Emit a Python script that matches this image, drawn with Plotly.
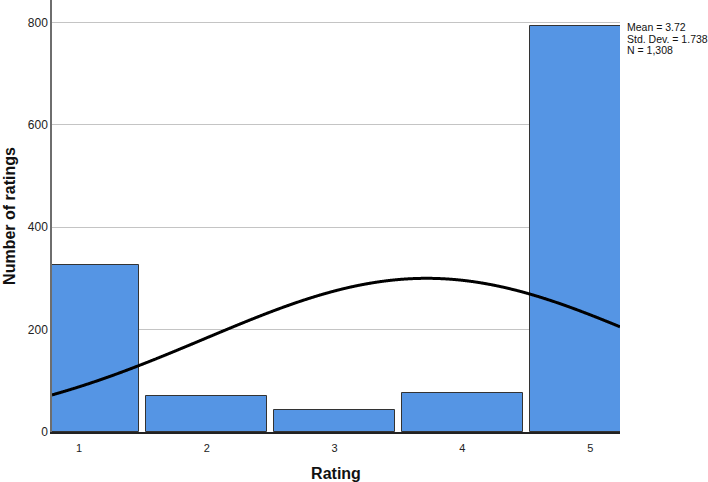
import numpy as np
import plotly.graph_objects as go

# Data
ratings = [1, 2, 3, 4, 5]
counts = [326, 70, 43, 76, 793]
tick_labels = ["1", "2", "3", "4", "5"]
y_ticks = [0, 200, 400, 600, 800]
mean_val = 3.72
sd_val = 1.738
n_val = 1308
stats_lines = ["Mean = 3.72", "Std. Dev. = 1.738", "N = 1,308"]

FONT = "Arial, 'Liberation Sans', sans-serif"
x_range = [0.789, 5.233]
y_range = [0, 844]

fig = go.Figure()
fig.add_trace(go.Bar(
    x=ratings, y=counts, width=0.947,
    marker=dict(color="#5595E4", line=dict(color="#333333", width=1)),
    showlegend=False, hoverinfo="x+y",
))

# Normal curve fitted with the stated mean / SD / N (bin width 1)
xc = np.linspace(x_range[0], x_range[1], 800)
yc = n_val * 1.0 / (sd_val * np.sqrt(2 * np.pi)) * np.exp(-0.5 * ((xc - mean_val) / sd_val) ** 2)
fig.add_trace(go.Scatter(x=xc, y=yc, mode="lines",
                         line=dict(color="#000000", width=3, shape="spline", smoothing=1),
                         showlegend=False, hoverinfo="skip"))

fig.update_layout(
    width=708, height=482,
    margin=dict(l=52, r=88, t=0, b=50),
    paper_bgcolor="white", plot_bgcolor="white",
    font=dict(family=FONT, color="#222222"),
    bargap=0,
    xaxis=dict(
        range=x_range, tickvals=ratings, ticktext=tick_labels,
        showgrid=False, zeroline=False,
        showline=True, linecolor="#222222", linewidth=1.5,
        ticks="", tickfont=dict(size=11, color="#222222"),
        ticklabelstandoff=5,
        title=dict(text="<b>Rating</b>", font=dict(size=16, color="#111111"), standoff=16),
    ),
    yaxis=dict(
        range=y_range, tickvals=y_ticks,
        showgrid=True, gridcolor="#C4C4C4", gridwidth=1,
        zeroline=False,
        showline=True, linecolor="#6E6E6E", linewidth=1.5,
        ticks="", tickfont=dict(size=12, color="#222222"),
        title=dict(text="<b>Number of ratings</b>", font=dict(size=16, color="#111111"), standoff=8),
    ),
)

for i, line in enumerate(stats_lines):
    fig.add_annotation(
        xref="paper", yref="paper", x=1, y=1,
        xanchor="left", yanchor="middle",
        xshift=5, yshift=-(27 + 11.5 * i),
        text=line, showarrow=False,
        font=dict(size=10.5, color="#111111", family=FONT),
    )

fig.write_html("out.html")
